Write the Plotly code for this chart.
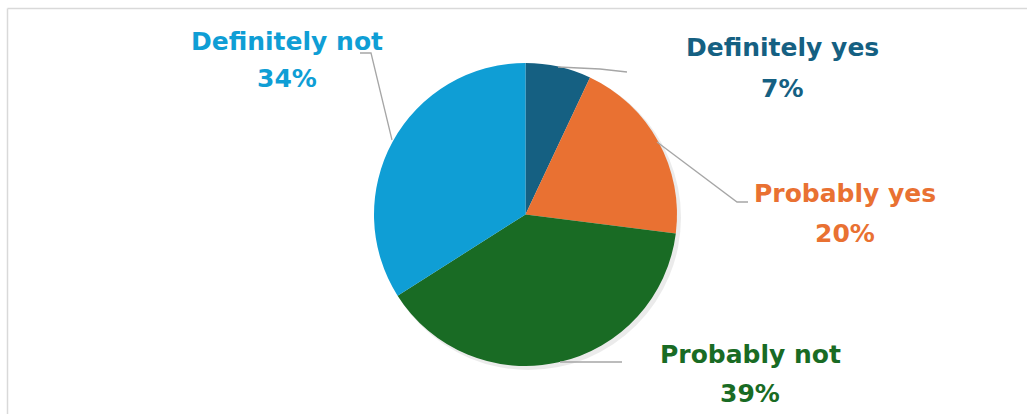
import plotly.graph_objects as go

categories = ["Definitely yes", "Probably yes", "Probably not", "Definitely not"]
values = [7, 20, 39, 34]
colors = ["#156082", "#E97132", "#196B24", "#0F9ED5"]

W, H = 1027, 414

def px(x):
    return x / W

def py(y):
    return 1 - y / H

# pie geometry (pixels)
cx, cy, r = 525.5, 214.5, 151.5

fig = go.Figure()

# soft shadow
fig.add_trace(go.Pie(
    values=[1], marker=dict(colors=["rgba(0,0,0,0.08)"], line=dict(width=0)),
    textinfo="none", hoverinfo="skip", showlegend=False, sort=False,
    domain=dict(x=[px(cx - r + 2), px(cx + r + 4)], y=[py(cy + r + 4), py(cy - r + 2)]),
))

fig.add_trace(go.Pie(
    labels=categories, values=values, sort=False, direction="clockwise", rotation=0,
    marker=dict(colors=colors, line=dict(color="white", width=0)),
    textinfo="none", showlegend=False,
    domain=dict(x=[px(cx - r), px(cx + r)], y=[py(cy + r), py(cy - r)]),
))

# label positions (pixel centers of line 1 and line 2) and leader line paths
label_pos = [(782, 47, 87), (845, 192, 233), (750, 353, 392), (287, 40, 78)]
leaders = [
    [(558, 67), (600, 69), (627, 72)],
    [(657, 142), (737, 202), (748, 202)],
    [(560, 362), (622, 362)],
    [(392, 140), (371, 53), (360, 53)],
]

FONT = "DejaVu Sans"
FS = 25

for cat, val, col, (lx, ly1, ly2), pts in zip(categories, values, colors, label_pos, leaders):
    for txt, ly in ((cat, ly1), (f"{val}%", ly2)):
        fig.add_annotation(
            x=px(lx), y=py(ly + 1), xref="paper", yref="paper",
            text=f"<b>{txt}</b>", showarrow=False,
            font=dict(family=FONT, size=FS, color=col),
            align="center", xanchor="center", yanchor="middle",
        )
    path = "M " + " L ".join(f"{px(x)},{py(y)}" for x, y in pts)
    fig.add_shape(type="path", path=path, xref="paper", yref="paper",
                  line=dict(color="#A6A6A6", width=1.3))

# chart frame: only top and left edges are visible
fig.add_shape(type="line", xref="paper", yref="paper",
              x0=px(7.5), x1=px(1027), y0=py(8.5), y1=py(8.5),
              line=dict(color="#D9D9D9", width=1.5))
fig.add_shape(type="line", xref="paper", yref="paper",
              x0=px(7.5), x1=px(7.5), y0=py(8.5), y1=py(414),
              line=dict(color="#D9D9D9", width=1.5))

fig.update_layout(
    width=W, height=H,
    margin=dict(l=0, r=0, t=0, b=0),
    paper_bgcolor="white", plot_bgcolor="white",
)

fig.write_html("out.html", config={"displayModeBar": False},
               post_script="document.body.style.margin='0';document.body.style.overflow='hidden';")
